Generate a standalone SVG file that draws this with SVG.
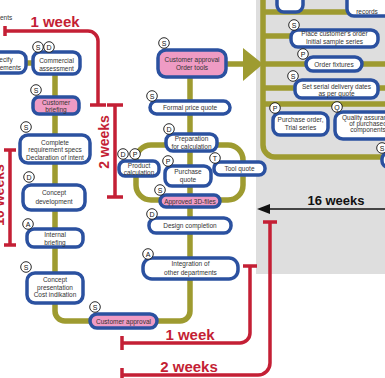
<svg xmlns="http://www.w3.org/2000/svg" width="385" height="378" viewBox="0 0 385 378">
<style>
.n{fill:#fff;stroke:#2b51a0;stroke-width:3.5}
.pk{fill:#ef9bc4}
.t{font-family:"Liberation Sans",Arial,sans-serif;font-size:6.5px;fill:#333;text-anchor:middle}
.b circle{fill:#fff;stroke:#111;stroke-width:0.9}
.b text{font-family:"Liberation Sans",Arial,sans-serif;font-size:7px;fill:#111;text-anchor:middle}
.ol{fill:none;stroke:#9e9b30;stroke-width:5.5}
.rd{fill:none;stroke:#c41f35;stroke-width:3.5}
.rt{font-family:"Liberation Sans",Arial,sans-serif;font-weight:bold;fill:#c41f35;text-anchor:middle}
</style>
<rect x="256" y="0" width="129" height="274" fill="#dedede"/>
<text x="0" y="20" font-family="Liberation Sans,Arial,sans-serif" font-size="6.5" fill="#333">ents</text>
<g id="connectors">
<path class="ol" d="M20,63 H40"/>
<path class="ol" d="M55,74 V311 A10,10 0 0 0 65,321 H180 A10,10 0 0 0 190,311 V77"/>
<rect class="ol" x="136" y="145" width="107" height="55" rx="15"/>
<path class="ol" d="M226,64 H246"/>
<polygon points="243,48 263,64 243,81" fill="#9e9b30"/>
<path class="ol" d="M263,0 V145 A12,12 0 0 0 275,157 H385"/>
<path class="ol" d="M263,12 H350 M263,36 H295 M263,64 H385 M263,88 H385 M263,104 H385"/>
<path class="rd" d="M5,31 H88 A10,10 0 0 1 98,41 V105 M5,26 V36 M90,105 H106"/>
<path class="rd" d="M115,105 V197 M107,105 H123 M107,197 H123"/>
<path class="rd" d="M10,150 V245 M4,150 H16 M4,245 H16"/>
<path class="rd" d="M122,343 H240 A10,10 0 0 0 250,333 V266 M122,336 V350 M243,266 H257"/>
<path class="rd" d="M122,375 H258 A12,12 0 0 0 270,363 V222 M122,368 V382 M263,222 H277"/>
<path d="M268,209 H385" stroke="#111" stroke-width="1.5"/>
<polygon points="257,209 270,204 270,214" fill="#111"/>
</g>
<text class="rt" x="55" y="27" font-size="15">1 week</text>
<text class="rt" x="190" y="340" font-size="15">1 week</text>
<text class="rt" x="189" y="372" font-size="15">2 weeks</text>
<text class="rt" font-size="14" transform="translate(109,142) rotate(-90)">2 weeks</text>
<text class="rt" font-size="14" transform="translate(4,195) rotate(-90)">10 weeks</text>
<text x="336" y="205" font-family="Liberation Sans,Arial,sans-serif" font-weight="bold" font-size="13" fill="#111" text-anchor="middle">16 weeks</text>

<g id="specify"><rect class="n" x="-40" y="52" width="66" height="21" rx="7"/><text class="t" x="2" y="62">Specify</text><text class="t" x="2" y="70">requirements</text></g>
<g id="commercial"><rect class="n" x="33" y="52" width="47" height="22" rx="7"/><text class="t" x="56.5" y="62.5">Commercial</text><text class="t" x="56.5" y="70.5">assessment</text>
<g class="b"><circle cx="38" cy="47" r="5.3"/><text x="38" y="49.5">S</text><circle cx="49" cy="47" r="5.3"/><text x="49" y="49.5">D</text></g></g>
<g id="briefing"><rect class="n pk" x="33" y="97" width="46" height="17" rx="6"/><text class="t" x="56" y="104.5">Customer</text><text class="t" x="56" y="111.5">briefing</text>
<g class="b"><circle cx="36" cy="90" r="5.3"/><text x="36" y="92.5">S</text></g></g>
<g id="complete"><rect class="n" x="20" y="135" width="70" height="28" rx="8"/><text class="t" x="55" y="145">Complete</text><text class="t" x="55" y="152">requirement specs</text><text class="t" x="55" y="159.5">Declaration of intent</text>
<g class="b"><circle cx="26" cy="127" r="5.3"/><text x="26" y="129.5">S</text></g></g>
<g id="concept"><rect class="n" x="23" y="185" width="62" height="25" rx="8"/><text class="t" x="54" y="195">Concept</text><text class="t" x="54" y="203.5">development</text>
<g class="b"><circle cx="29" cy="177" r="5.3"/><text x="29" y="179.5">D</text></g></g>
<g id="internal"><rect class="n" x="27" y="229" width="56" height="18" rx="7"/><text class="t" x="55" y="237">Internal</text><text class="t" x="55" y="244.5">briefing</text>
<g class="b"><circle cx="28" cy="224" r="5.3"/><text x="28" y="226.5">A</text></g></g>
<g id="presentation"><rect class="n" x="27" y="273" width="56" height="30" rx="8"/><text class="t" x="55" y="282">Concept</text><text class="t" x="55" y="289.5">presentation</text><text class="t" x="55" y="297">Cost indikation</text>
<g class="b"><circle cx="26" cy="267" r="5.3"/><text x="26" y="269.5">S</text></g></g>
<g id="approval2"><rect class="n pk" x="90" y="314" width="67" height="14" rx="7"/><text class="t" x="123.5" y="323.5">Customer approval</text>
<g class="b"><circle cx="95" cy="307" r="5.3"/><text x="95" y="309.5">S</text></g></g>
<g id="approval1"><rect class="n pk" x="158" y="50" width="68" height="27" rx="8"/><text class="t" x="192" y="61.5">Customer approval</text><text class="t" x="192" y="69.5">Order tools</text>
<g class="b"><circle cx="164" cy="43" r="5.3"/><text x="164" y="45.5">S</text></g></g>
<g id="formal"><rect class="n" x="150" y="101" width="80" height="13" rx="6.5"/><text class="t" x="190" y="110">Formal price quote</text>
<g class="b"><circle cx="152" cy="96" r="5.3"/><text x="152" y="98.5">S</text></g></g>
<g id="preparation"><rect class="n" x="166" y="134" width="51" height="17" rx="7"/><text class="t" x="191.5" y="141">Preparation</text><text class="t" x="191.5" y="148.5">for calculation</text>
<g class="b"><circle cx="169" cy="129" r="5.3"/><text x="169" y="131.5">D</text></g></g>
<g id="product"><rect class="n" x="119" y="161" width="40" height="15" rx="6"/><text class="t" x="139" y="168">Product</text><text class="t" x="139" y="174.5">calculation</text>
<g class="b"><circle cx="123" cy="154" r="5.3"/><text x="123" y="156.5">D</text><circle cx="135" cy="154" r="5.3"/><text x="135" y="156.5">P</text></g></g>
<g id="purchase"><rect class="n" x="165" y="166" width="46" height="20" rx="7"/><text class="t" x="188" y="174">Purchase</text><text class="t" x="188" y="181.5">quote</text>
<g class="b"><circle cx="168" cy="161" r="5.3"/><text x="168" y="163.5">P</text></g></g>
<g id="tool"><rect class="n" x="214" y="162" width="51" height="13" rx="6"/><text class="t" x="239.5" y="170.5">Tool quote</text>
<g class="b"><circle cx="215" cy="158" r="5.3"/><text x="215" y="160.5">T</text></g></g>
<g id="approved3d"><rect class="n pk" x="160" y="195" width="60" height="12" rx="6"/><text class="t" x="190" y="203.5">Approved 3D-files</text>
<g class="b"><circle cx="160" cy="190" r="5.3"/><text x="160" y="192.5">S</text></g></g>
<g id="design"><rect class="n" x="149" y="218" width="82" height="15" rx="7"/><text class="t" x="190" y="228">Design completion</text>
<g class="b"><circle cx="152" cy="214" r="5.3"/><text x="152" y="216.5">D</text></g></g>
<g id="integration"><rect class="n" x="143" y="258" width="95" height="21" rx="9"/><text class="t" x="190.5" y="266">Integration of</text><text class="t" x="190.5" y="274.5">other departments</text>
<g class="b"><circle cx="148" cy="254" r="5.3"/><text x="148" y="256.5">A</text></g></g>
<g id="graybox1"><rect class="n" x="277" y="-10" width="26" height="22" rx="7"/></g>
<g id="records"><rect class="n" x="347" y="-10" width="50" height="26" rx="7"/><text class="t" x="367" y="13.5">records</text></g>
<g id="placeorder"><rect class="n" x="291" y="30" width="87" height="17" rx="7"/><text class="t" x="334.5" y="36">Place customer's order</text><text class="t" x="334.5" y="43.5">Initial sample series</text>
<g class="b"><circle cx="294" cy="25" r="5.3"/><text x="294" y="27.5">S</text></g></g>
<g id="fixtures"><rect class="n" x="306" y="57" width="56" height="14" rx="7"/><text class="t" x="334" y="66.5">Order fixtures</text>
<g class="b"><circle cx="303" cy="54" r="5.3"/><text x="303" y="56.5">P</text></g></g>
<g id="delivery"><rect class="n" x="295" y="80" width="83" height="18" rx="7"/><text class="t" x="336.5" y="88.5">Set serial delivery dates</text><text class="t" x="336.5" y="95.5">as per quote</text>
<g class="b"><circle cx="293" cy="76" r="5.3"/><text x="293" y="78.5">S</text></g></g>
<g id="purchaseorder"><rect class="n" x="273" y="113" width="55" height="22" rx="7"/><text class="t" x="300.5" y="121.5">Purchase order,</text><text class="t" x="300.5" y="130">Trial  series</text>
<g class="b"><circle cx="275" cy="108" r="5.3"/><text x="275" y="110.5">P</text></g></g>
<g id="quality"><rect class="n" x="335" y="112" width="66" height="27" rx="8"/><text class="t" x="368" y="119.5">Quality assurance</text><text class="t" x="368" y="125.5">of purchased</text><text class="t" x="368" y="131.5">components</text>
<g class="b"><circle cx="337" cy="107" r="5.3"/><text x="337" y="109.5">Q</text></g></g>
<g id="rightnode"><rect class="n" x="382" y="153" width="30" height="14" rx="6"/>
<g class="b"><circle cx="382" cy="148" r="5.3"/><text x="382" y="150.5">S</text></g></g>
</svg>
